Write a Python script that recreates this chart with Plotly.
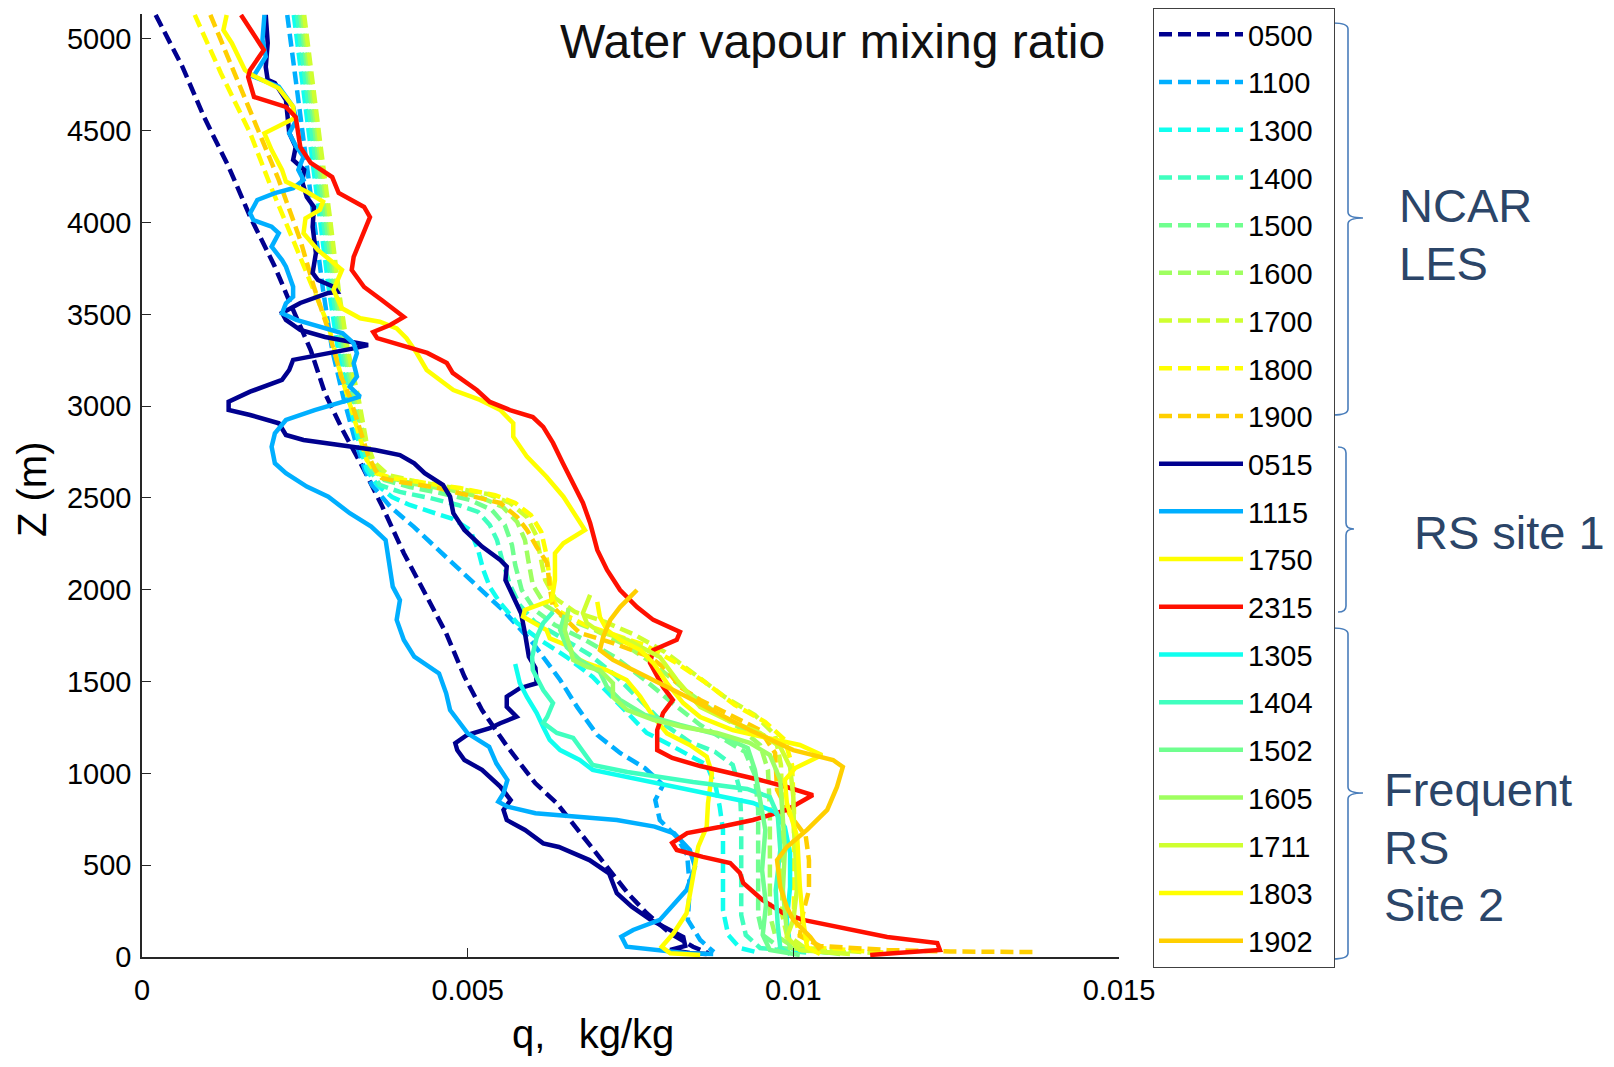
import plotly.graph_objects as go

# ---------------- data: water vapour mixing ratio q [kg/kg] vs height Z [m] ----------------
# NCAR LES profiles (dashed)
q_les_0500 = [0.00021, 0.00062, 0.00095, 0.00133, 0.00166, 0.00204, 0.00232, 0.00259, 0.00281, 0.00308,
              0.00341, 0.00369, 0.00402, 0.00434, 0.00467, 0.00495, 0.00522, 0.00561, 0.00604, 0.00637,
              0.00682, 0.00711, 0.00746, 0.00775, 0.00811, 0.00846, 0.00870]
z_les_0500 = [5131, 4849, 4577, 4304, 4032, 3760, 3524, 3306, 3070, 2870,
              2653, 2453, 2199, 1981, 1763, 1527, 1345, 1145, 946, 837,
              637, 510, 347, 238, 129, 56, 20]

q_les_1100 = [0.00223, 0.00236, 0.00250, 0.00264, 0.00278, 0.00292, 0.00309, 0.00327, 0.00342, 0.00353,
              0.00381, 0.00417, 0.00447, 0.00481, 0.00519, 0.00557, 0.00600, 0.00642, 0.00668, 0.00699,
              0.00734, 0.00772, 0.00800, 0.00788, 0.00795, 0.00821, 0.00837, 0.00841, 0.00838, 0.00857,
              0.00878]
z_les_1100 = [5131, 4777, 4395, 4014, 3633, 3306, 3050, 2816, 2653, 2571,
              2453, 2344, 2244, 2124, 1999, 1879, 1710, 1509, 1362, 1209,
              1111, 1029, 937, 855, 746, 654, 556, 381, 202, 93,
              27]

q_les_1300 = [0.00233, 0.00246, 0.00259, 0.00273, 0.00287, 0.00301, 0.00316, 0.00332, 0.00345, 0.00361,
              0.00384, 0.00411, 0.00452, 0.00477, 0.00504, 0.00516, 0.00524, 0.00534, 0.00550, 0.00576,
              0.00611, 0.00652, 0.00692, 0.00723, 0.00749, 0.00775, 0.00811, 0.00841, 0.00867, 0.00881,
              0.00887, 0.00892, 0.00892, 0.00892, 0.00900, 0.00918, 0.00949]
z_les_1300 = [5131, 4777, 4395, 4014, 3633, 3306, 3050, 2816, 2653, 2571,
              2505, 2462, 2418, 2386, 2326, 2217, 2108, 2015, 1928, 1819,
              1727, 1634, 1525, 1411, 1318, 1220, 1155, 1100, 1046, 926,
              817, 692, 474, 256, 120, 49, 22]

q_les_1400 = [0.00238, 0.00250, 0.00264, 0.00278, 0.00292, 0.00306, 0.00321, 0.00336, 0.00350, 0.00365,
              0.00396, 0.00442, 0.00485, 0.00516, 0.00534, 0.00545, 0.00553, 0.00565, 0.00580, 0.00603,
              0.00642, 0.00688, 0.00726, 0.00765, 0.00803, 0.00841, 0.00880, 0.00907, 0.00918, 0.00920,
              0.00920, 0.00920, 0.00927, 0.00949, 0.01026]
z_les_1400 = [5131, 4777, 4395, 4014, 3633, 3306, 3050, 2816, 2653, 2571,
              2533, 2500, 2462, 2424, 2353, 2271, 2162, 2026, 1917, 1825,
              1743, 1645, 1536, 1400, 1264, 1171, 1117, 1046, 910, 746,
              419, 229, 120, 49, 22]

q_les_1500 = [0.00243, 0.00255, 0.00269, 0.00282, 0.00296, 0.00310, 0.00325, 0.00341, 0.00353, 0.00372,
              0.00411, 0.00458, 0.00504, 0.00537, 0.00557, 0.00568, 0.00573, 0.00583, 0.00603, 0.00634,
              0.00680, 0.00726, 0.00772, 0.00818, 0.00857, 0.00895, 0.00926, 0.00941, 0.00946, 0.00946,
              0.00946, 0.00953, 0.00980, 0.01056]
z_les_1500 = [5131, 4777, 4395, 4014, 3633, 3306, 3050, 2816, 2663, 2598,
              2560, 2527, 2489, 2435, 2353, 2244, 2135, 1999, 1890, 1808,
              1727, 1634, 1509, 1373, 1264, 1182, 1117, 991, 801, 419,
              229, 120, 49, 22]

q_les_1600 = [0.00246, 0.00258, 0.00272, 0.00286, 0.00299, 0.00313, 0.00329, 0.00342, 0.00355, 0.00375,
              0.00419, 0.00473, 0.00519, 0.00554, 0.00576, 0.00588, 0.00593, 0.00600, 0.00619, 0.00649,
              0.00695, 0.00742, 0.00788, 0.00834, 0.00880, 0.00918, 0.00949, 0.00961, 0.00964, 0.00964,
              0.00964, 0.00972, 0.01003, 0.01087]
z_les_1600 = [5131, 4777, 4395, 4014, 3633, 3306, 3050, 2816, 2680, 2614,
              2576, 2544, 2505, 2451, 2369, 2271, 2162, 2026, 1917, 1846,
              1781, 1699, 1590, 1454, 1334, 1247, 1155, 1019, 801, 419,
              229, 120, 49, 22]

q_les_1700 = [0.00249, 0.00261, 0.00275, 0.00289, 0.00302, 0.00316, 0.00332, 0.00344, 0.00356, 0.00378,
              0.00424, 0.00481, 0.00530, 0.00565, 0.00591, 0.00605, 0.00611, 0.00619, 0.00634, 0.00665,
              0.00711, 0.00757, 0.00803, 0.00849, 0.00895, 0.00941, 0.00972, 0.00981, 0.00983, 0.00983,
              0.00983, 0.00990, 0.01018, 0.01125]
z_les_1700 = [5131, 4777, 4395, 4014, 3633, 3306, 3050, 2816, 2696, 2625,
              2587, 2554, 2522, 2473, 2396, 2298, 2190, 2053, 1955, 1879,
              1825, 1754, 1661, 1536, 1416, 1318, 1209, 1046, 801, 419,
              229, 120, 49, 22]

q_les_1800 = [0.00081, 0.00121, 0.00166, 0.00198, 0.00232, 0.00259, 0.00287, 0.00302, 0.00316, 0.00332,
              0.00345, 0.00359, 0.00384, 0.00427, 0.00488, 0.00542, 0.00573, 0.00597, 0.00613, 0.00620,
              0.00626, 0.00631, 0.00642, 0.00680, 0.00726, 0.00772, 0.00818, 0.00864, 0.00910, 0.00957,
              0.00987, 0.00998, 0.01001, 0.01001, 0.01001, 0.01010, 0.01041, 0.01148]
z_les_1800 = [5131, 4815, 4488, 4194, 3905, 3671, 3431, 3213, 3050, 2870,
              2707, 2636, 2609, 2587, 2554, 2516, 2473, 2407, 2315, 2206,
              2081, 1944, 1879, 1808, 1754, 1699, 1607, 1498, 1373, 1280,
              1182, 1046, 801, 419, 229, 120, 49, 22]

q_les_1900 = [0.00105, 0.00138, 0.00177, 0.00210, 0.00243, 0.00264, 0.00286, 0.00306, 0.00319, 0.00335,
              0.00347, 0.00358, 0.00368, 0.00396, 0.00447, 0.00499, 0.00550, 0.00576, 0.00591, 0.00606,
              0.00622, 0.00626, 0.00631, 0.00672, 0.00723, 0.00780, 0.00806, 0.00826, 0.00857, 0.00903,
              0.00949, 0.00972, 0.00975, 0.00995, 0.01019, 0.01024, 0.01024, 0.01015, 0.01010, 0.01041,
              0.01144, 0.01241, 0.01374]
z_les_1900 = [5131, 4847, 4521, 4232, 3905, 3649, 3415, 3159, 3050, 2870,
              2734, 2653, 2609, 2587, 2560, 2516, 2473, 2396, 2326, 2233,
              2146, 2015, 1906, 1765, 1710, 1634, 1563, 1471, 1400, 1318,
              1236, 1111, 910, 773, 659, 528, 365, 240, 114, 60,
              38, 30, 27]

# Radiosonde site 1 (solid)
q_rs1_0515 = [0.00190, 0.00193, 0.00190, 0.00193, 0.00204, 0.00221, 0.00226, 0.00236, 0.00232, 0.00249,
              0.00246, 0.00253, 0.00264, 0.00262, 0.00267, 0.00262, 0.00270, 0.00295, 0.00300, 0.00286,
              0.00243, 0.00215, 0.00221, 0.00243, 0.00281, 0.00325, 0.00347, 0.00325, 0.00286, 0.00253,
              0.00232, 0.00226, 0.00215, 0.00166, 0.00133, 0.00133, 0.00166, 0.00210, 0.00221, 0.00248,
              0.00303, 0.00358, 0.00396, 0.00418, 0.00434, 0.00462, 0.00473, 0.00478, 0.00495, 0.00522,
              0.00550, 0.00560, 0.00558, 0.00572, 0.00582, 0.00588, 0.00594, 0.00604, 0.00606, 0.00580,
              0.00560, 0.00560, 0.00575, 0.00550, 0.00534, 0.00499, 0.00481, 0.00484, 0.00495, 0.00522,
              0.00550, 0.00566, 0.00555, 0.00560, 0.00588, 0.00616, 0.00640, 0.00687, 0.00717, 0.00729,
              0.00752, 0.00781, 0.00811, 0.00831, 0.00834, 0.00811, 0.00841, 0.00867]
z_rs1_0515 = [5131, 4978, 4847, 4777, 4760, 4668, 4488, 4412, 4341, 4287,
              4221, 4139, 4085, 3976, 3834, 3726, 3687, 3649, 3622, 3617,
              3562, 3508, 3470, 3415, 3377, 3351, 3333, 3315, 3290, 3268,
              3252, 3197, 3143, 3079, 3025, 2979, 2952, 2907, 2843, 2816,
              2789, 2761, 2734, 2689, 2635, 2571, 2507, 2417, 2326, 2235,
              2162, 2126, 2053, 1944, 1872, 1763, 1636, 1574, 1491, 1464,
              1418, 1363, 1309, 1273, 1246, 1209, 1164, 1127, 1073, 1019,
              928, 855, 801, 746, 692, 619, 599, 528, 456, 347,
              274, 202, 147, 109, 60, 38, 22, 16]

q_rs1_1115 = [0.00188, 0.00185, 0.00190, 0.00171, 0.00210, 0.00232, 0.00237, 0.00226, 0.00237, 0.00248,
              0.00240, 0.00248, 0.00232, 0.00204, 0.00177, 0.00166, 0.00171, 0.00199, 0.00210, 0.00199,
              0.00215, 0.00221, 0.00232, 0.00232, 0.00221, 0.00215, 0.00237, 0.00275, 0.00308, 0.00325,
              0.00330, 0.00325, 0.00330, 0.00319, 0.00335, 0.00265, 0.00221, 0.00204, 0.00199, 0.00204,
              0.00221, 0.00253, 0.00286, 0.00319, 0.00352, 0.00374, 0.00380, 0.00385, 0.00396, 0.00391,
              0.00402, 0.00418, 0.00456, 0.00467, 0.00473, 0.00500, 0.00533, 0.00544, 0.00561, 0.00555,
              0.00547, 0.00561, 0.00604, 0.00670, 0.00729, 0.00787, 0.00817, 0.00841, 0.00849, 0.00836,
              0.00795, 0.00754, 0.00736, 0.00744, 0.00785, 0.00836, 0.00877]
z_rs1_1115 = [5131, 4995, 4904, 4795, 4740, 4631, 4559, 4486, 4413, 4359,
              4287, 4232, 4187, 4160, 4123, 4051, 4014, 3978, 3942, 3869,
              3796, 3760, 3651, 3596, 3560, 3506, 3470, 3433, 3397, 3343,
              3288, 3234, 3161, 3106, 3052, 2979, 2925, 2852, 2779, 2689,
              2635, 2562, 2507, 2417, 2344, 2271, 2126, 2017, 1944, 1836,
              1727, 1636, 1545, 1436, 1345, 1218, 1145, 1055, 964, 892,
              846, 819, 783, 764, 746, 710, 674, 583, 492, 365,
              202, 147, 111, 56, 38, 20, 16]

q_rs1_1750 = [0.00130, 0.00125, 0.00138, 0.00158, 0.00169, 0.00210, 0.00232, 0.00234, 0.00188, 0.00199,
              0.00215, 0.00221, 0.00253, 0.00278, 0.00273, 0.00251, 0.00248, 0.00270, 0.00307, 0.00294,
              0.00307, 0.00335, 0.00365, 0.00391, 0.00406, 0.00422, 0.00437, 0.00478, 0.00519, 0.00550,
              0.00570, 0.00570, 0.00591, 0.00621, 0.00647, 0.00667, 0.00680, 0.00647, 0.00634, 0.00634,
              0.00629, 0.00588, 0.00585, 0.00621, 0.00626, 0.00657, 0.00662, 0.00683, 0.00713, 0.00744,
              0.00765, 0.00785, 0.00806, 0.00841, 0.00867, 0.00875, 0.00869, 0.00867, 0.00854, 0.00846,
              0.00836, 0.00816, 0.00798, 0.00811, 0.00857]
z_rs1_1750 = [5131, 5049, 4977, 4831, 4804, 4731, 4631, 4568, 4486, 4395,
              4287, 4223, 4168, 4114, 4069, 4023, 3942, 3851, 3742, 3633,
              3533, 3479, 3460, 3424, 3370, 3288, 3197, 3088, 3034, 2979,
              2907, 2834, 2725, 2616, 2507, 2398, 2326, 2253, 2199, 2053,
              1944, 1890, 1853, 1781, 1736, 1690, 1636, 1600, 1563, 1509,
              1418, 1309, 1218, 1155, 1091, 1001, 837, 710, 601, 437,
              238, 129, 56, 20, 11]

q_rs1_2315 = [0.00152, 0.00187, 0.00166, 0.00163, 0.00172, 0.00221, 0.00236, 0.00243, 0.00259, 0.00292,
              0.00302, 0.00341, 0.00350, 0.00336, 0.00325, 0.00322, 0.00341, 0.00368, 0.00402, 0.00381,
              0.00355, 0.00361, 0.00396, 0.00438, 0.00468, 0.00477, 0.00514, 0.00534, 0.00565, 0.00600,
              0.00616, 0.00631, 0.00646, 0.00662, 0.00677, 0.00688, 0.00699, 0.00714, 0.00734, 0.00760,
              0.00785, 0.00826, 0.00821, 0.00785, 0.00780, 0.00800, 0.00815, 0.00800, 0.00791, 0.00791,
              0.00814, 0.00857, 0.00907, 0.00949, 0.00990, 0.01030, 0.00990, 0.00938, 0.00887, 0.00837,
              0.00814, 0.00821, 0.00861, 0.00903, 0.00918, 0.00923, 0.00953, 0.00984, 0.01015, 0.01067,
              0.01144, 0.01221, 0.01225, 0.01159, 0.01118]
z_rs1_2315 = [5131, 4940, 4831, 4793, 4684, 4630, 4575, 4412, 4325, 4248,
              4161, 4085, 4030, 3905, 3813, 3742, 3649, 3578, 3486, 3442,
              3404, 3371, 3333, 3290, 3235, 3181, 3088, 3023, 2979, 2941,
              2887, 2800, 2691, 2582, 2473, 2364, 2217, 2108, 1999, 1906,
              1836, 1770, 1727, 1672, 1601, 1471, 1400, 1329, 1236, 1127,
              1084, 1040, 1002, 964, 926, 882, 801, 746, 708, 675,
              621, 583, 545, 512, 458, 403, 310, 240, 202, 163,
              109, 76, 38, 22, 11]

# Frequent radiosondes, site 2 (solid)
q_rs2_1305 = [0.00573, 0.00580, 0.00591, 0.00606, 0.00616, 0.00626, 0.00642, 0.00672, 0.00692, 0.00745,
              0.00795, 0.00846, 0.00898, 0.00938, 0.00972, 0.00987, 0.00995, 0.00995, 0.00990, 0.00995,
              0.01010]
z_rs2_1305 = [1596, 1492, 1416, 1329, 1253, 1182, 1127, 1073, 1019, 980,
              948, 910, 871, 839, 790, 708, 566, 381, 202, 54,
              16]

q_rs2_1404 = [0.00631, 0.00616, 0.00606, 0.00599, 0.00600, 0.00616, 0.00631, 0.00622, 0.00616, 0.00637,
              0.00662, 0.00677, 0.00692, 0.00745, 0.00846, 0.00929, 0.00964, 0.00976, 0.00980, 0.00973,
              0.00976, 0.00980, 0.00995]
z_rs2_1404 = [1879, 1819, 1743, 1634, 1563, 1454, 1383, 1307, 1275, 1220,
              1193, 1117, 1046, 1008, 953, 915, 871, 773, 583, 365,
              174, 49, 16]

q_rs2_1502 = [0.00649, 0.00642, 0.00652, 0.00672, 0.00703, 0.00714, 0.00734, 0.00772, 0.00826, 0.00887,
              0.00930, 0.00941, 0.00949, 0.00957, 0.00952, 0.00958, 0.00953, 0.00964, 0.01010]
z_rs2_1502 = [1863, 1781, 1688, 1618, 1552, 1471, 1400, 1318, 1264, 1209,
              1138, 1019, 855, 692, 474, 283, 120, 38, 11]

q_rs2_1605 = [0.00655, 0.00649, 0.00657, 0.00662, 0.00683, 0.00703, 0.00723, 0.00723, 0.00745, 0.00785,
              0.00831, 0.00883, 0.00933, 0.00964, 0.00980, 0.00984, 0.00987, 0.00984, 0.00989, 0.00995,
              0.01072]
z_rs2_1605 = [1900, 1781, 1688, 1618, 1580, 1563, 1492, 1416, 1345, 1291,
              1253, 1220, 1166, 1100, 964, 784, 583, 365, 174, 49,
              16]

q_rs2_1711 = [0.00688, 0.00677, 0.00683, 0.00703, 0.00745, 0.00795, 0.00821, 0.00857, 0.00898, 0.00949,
              0.00980, 0.00995, 0.01000, 0.01001, 0.01006, 0.01000, 0.00990, 0.01010, 0.01087]
z_rs2_1711 = [1972, 1874, 1819, 1770, 1727, 1634, 1509, 1362, 1291, 1220,
              1144, 1035, 871, 692, 381, 202, 109, 38, 16]

q_rs2_1803 = [0.00699, 0.00703, 0.00714, 0.00734, 0.00765, 0.00785, 0.00806, 0.00831, 0.00857, 0.00907,
              0.00960, 0.01010, 0.01044, 0.01003, 0.00987, 0.00990, 0.01006, 0.01010, 0.01015, 0.01021,
              0.01041]
z_rs2_1803 = [1934, 1852, 1781, 1727, 1672, 1601, 1492, 1383, 1307, 1236,
              1193, 1155, 1100, 1029, 964, 839, 654, 381, 202, 54,
              16]

q_rs2_1902 = [0.00760, 0.00734, 0.00719, 0.00708, 0.00703, 0.00723, 0.00754, 0.00795, 0.00837, 0.00883,
              0.00933, 0.01000, 0.01061, 0.01076, 0.01067, 0.01052, 0.01021, 0.00990, 0.00975, 0.00980,
              0.00990, 0.01000, 0.01026, 0.01041]
z_rs2_1902 = [1999, 1906, 1836, 1743, 1672, 1618, 1563, 1492, 1416, 1329,
              1236, 1127, 1073, 1035, 926, 801, 692, 599, 528, 381,
              272, 202, 109, 38]

# legend labels and colours
series_names = ["0500", "1100", "1300", "1400", "1500", "1600", "1700", "1800", "1900",
                "0515", "1115", "1750", "2315",
                "1305", "1404", "1502", "1605", "1711", "1803", "1902"]
series_colors = ["#00008F", "#00AFFF", "#10FFEF", "#40FFBF", "#70FF8F", "#9FFF60", "#CFFF30", "#FFFF00", "#FFCF00",
                 "#00008F", "#00AFFF", "#FFFF00", "#FF1000",
                 "#10FFEF", "#40FFBF", "#70FF8F", "#9FFF60", "#CFFF30", "#FFFF00", "#FFCF00"]
series_dashed = [True] * 9 + [False] * 11
series_q = [q_les_0500, q_les_1100, q_les_1300, q_les_1400, q_les_1500, q_les_1600, q_les_1700, q_les_1800, q_les_1900,
            q_rs1_0515, q_rs1_1115, q_rs1_1750, q_rs1_2315,
            q_rs2_1305, q_rs2_1404, q_rs2_1502, q_rs2_1605, q_rs2_1711, q_rs2_1803, q_rs2_1902]
series_z = [z_les_0500, z_les_1100, z_les_1300, z_les_1400, z_les_1500, z_les_1600, z_les_1700, z_les_1800, z_les_1900,
            z_rs1_0515, z_rs1_1115, z_rs1_1750, z_rs1_2315,
            z_rs2_1305, z_rs2_1404, z_rs2_1502, z_rs2_1605, z_rs2_1711, z_rs2_1803, z_rs2_1902]

x_tickvals = [0, 0.005, 0.01, 0.015]
x_ticktext = ["0", "0.005", "0.01", "0.015"]
y_tickvals = [0, 500, 1000, 1500, 2000, 2500, 3000, 3500, 4000, 4500, 5000]

# ---------------- layout geometry (pixels) ----------------
W, H = 1614, 1067
ML, MR, MT, MB = 142, 495, 14, 110
PW, PH = W - ML - MR, H - MT - MB
FONT = "Liberation Sans, Arial, Helvetica, sans-serif"
NOTE_COLOR = "#2B4568"
BRACE_COLOR = "#4A7EBB"
LEGEND_PAD = "\u00a0\u00a0"   # trailing room inside the legend box


def px(x):
    return (x - ML) / PW


def py(y):
    return (H - MB - y) / PH


fig = go.Figure()
for i, (name, q, z, col, dashed) in enumerate(zip(series_names, series_q, series_z, series_colors, series_dashed)):
    fig.add_trace(go.Scatter(
        x=q, y=z, mode="lines", name=name + LEGEND_PAD, legendgroup="g%d" % i,
        line=dict(color=col, width=4.5, dash="13px,6px" if dashed else "solid"),
    ))

annotations = [
    dict(text="Water vapour mixing ratio", x=px(832), y=py(42), font=dict(size=48, color="#111111")),
    dict(text="q,\u00a0\u00a0\u00a0kg/kg", x=px(593), y=py(1034), font=dict(size=40, color="black")),
    dict(text="Z (m)", x=px(32), y=py(489), textangle=-90, font=dict(size=40, color="black")),
    dict(text="NCAR", x=px(1397), y=py(206), xanchor="left", font=dict(size=47, color=NOTE_COLOR)),
    dict(text="LES", x=px(1397), y=py(263), xanchor="left", font=dict(size=47, color=NOTE_COLOR)),
    dict(text="RS site 1", x=px(1412), y=py(532), xanchor="left", font=dict(size=47, color=NOTE_COLOR)),
    dict(text="Frequent", x=px(1382), y=py(790), xanchor="left", font=dict(size=47, color=NOTE_COLOR)),
    dict(text="RS", x=px(1382), y=py(847), xanchor="left", font=dict(size=47, color=NOTE_COLOR)),
    dict(text="Site 2", x=px(1382), y=py(904), xanchor="left", font=dict(size=47, color=NOTE_COLOR)),
]
for a in annotations:
    a.setdefault("xanchor", "center")
    a.update(xref="paper", yref="paper", yanchor="middle", showarrow=False)


def brace(x0, xm, xt, y0, ym, y1, r=6):
    def p(x, y):
        return "%.5f,%.5f" % (px(x), py(y))
    return ("M" + p(x0, y0) + " Q" + p(xm, y0) + " " + p(xm, y0 + r) +
            " L" + p(xm, ym - r) + " Q" + p(xm, ym) + " " + p(xt, ym) +
            " Q" + p(xm, ym) + " " + p(xm, ym + r) +
            " L" + p(xm, y1 - r) + " Q" + p(xm, y1) + " " + p(x0, y1))


shapes = [
    dict(type="path", path=brace(1333, 1348, 1363, 23, 218, 415)),
    dict(type="path", path=brace(1338, 1346, 1354, 447, 529, 612)),
    dict(type="path", path=brace(1333, 1348, 1363, 628, 793, 959)),
]
for s in shapes:
    s.update(xref="paper", yref="paper", line=dict(color=BRACE_COLOR, width=1.6))

axis_common = dict(showline=True, linecolor="#262626", linewidth=1.5, ticks="inside", ticklen=9,
                   tickcolor="#262626", tickwidth=1, showgrid=False, zeroline=False,
                   tickfont=dict(size=29, color="black"))

fig.update_layout(
    width=W, height=H,
    margin=dict(l=ML, r=MR, t=MT, b=MB, autoexpand=False),
    paper_bgcolor="white", plot_bgcolor="white",
    font=dict(family=FONT, color="black"),
    showlegend=True,
    legend=dict(x=px(1153), y=py(8), xanchor="left", yanchor="top",
                bordercolor="#404040", borderwidth=1, bgcolor="white",
                font=dict(size=29, color="black"), tracegroupgap=7, itemwidth=84,
                traceorder="grouped", maxheight=1040),
    xaxis=dict(range=[0, 0.015], tickvals=x_tickvals, ticktext=x_ticktext, ticklabelstandoff=6, **axis_common),
    yaxis=dict(range=[0, 5136], tickvals=y_tickvals, ticklabelstandoff=3, **axis_common),
    annotations=annotations,
    shapes=shapes,
)

fig.write_html("out.html")
